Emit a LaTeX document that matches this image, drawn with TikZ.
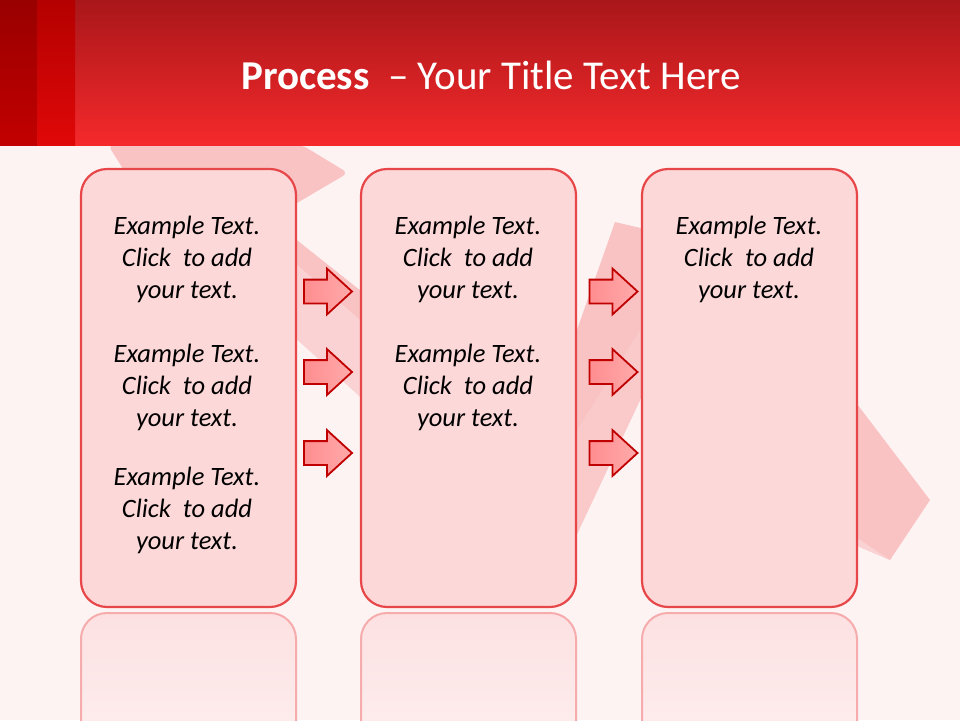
\documentclass[tikz,border=0pt]{standalone}
\usepackage{fontspec}
\setmainfont{Carlito}
\usetikzlibrary{shapes.arrows,calc}
\definecolor{bg}{HTML}{FEF3F3}
\definecolor{titletop}{HTML}{A9171A}
\definecolor{titlebot}{HTML}{F5292B}
\definecolor{stripAtop}{HTML}{990000}
\definecolor{stripAbot}{HTML}{C20000}
\definecolor{stripBtop}{HTML}{B40000}
\definecolor{stripBbot}{HTML}{E00808}
\definecolor{bandmid}{HTML}{F9C3C4}
\definecolor{bandsoft}{HTML}{FAC9CA}
\definecolor{bandlight}{HTML}{FBD2D3}
\definecolor{boxfill}{HTML}{FDD8D9}
\definecolor{boxline}{HTML}{E8474A}
\definecolor{refltop}{HTML}{FDE1E2}
\definecolor{reflline}{HTML}{F6ABAD}
\definecolor{arrowline}{HTML}{C00000}
\definecolor{arrowA}{HTML}{FF8D8F}
\definecolor{arrowB}{HTML}{FFAAAB}
\tikzset{
  body/.style={font=\itshape\fontsize{26.5}{32}\selectfont, align=center, inner sep=0pt, text=black},
  procbox/.style={draw=boxline, line width=2.2pt, fill=boxfill, rounded corners=26pt,
    minimum width=215pt, minimum height=438pt, inner sep=0pt},
  blockarrow/.style={single arrow, draw=arrowline, line width=1.8pt,
    left color=arrowA, right color=arrowB, inner xsep=0pt, inner ysep=11pt,
    single arrow head extend=11pt, minimum height=48pt, single arrow tip angle=85},
  reflbox/.style={draw=reflline, line width=2pt, top color=refltop, bottom color=bg, rounded corners=26pt},
}
\newcommand\exampletext{Example Text.\\Click~ to add\\your text.}
\begin{document}
\begin{tikzpicture}[x=1pt,y=-1pt]
\useasboundingbox (0,0) rectangle (960,720);
\fill[bg] (0,0) rectangle (960,720);
% background ribbon
\fill[bandmid, rounded corners=6pt] (108,145) -- (302,145) -- (348,173) -- (297,203) -- (200,260) -- (125,172) -- cycle;
\fill[bandlight] (260,211) -- (400,322) -- (400,433) -- (260,306) -- cycle;
\fill[bandmid] (260,211) -- (400,322) -- (400,355) -- (260,232) -- cycle;
\fill[bandmid] (615,222) -- (700,242) -- (700,272) -- (640,400) -- (560,570) -- (560,378) -- cycle;
\fill[bandsoft] (640,330) -- (640,400) -- (560,570) -- (560,457) -- cycle;
\fill[bandmid] (800,329) -- (930,500) -- (890,560) -- (800,521) -- cycle;
\fill[bandlight] (800,500) -- (890,560) -- (800,521) -- cycle;
% title bar
\fill[top color=titletop, bottom color=titlebot] (0,0) rectangle (960,145);
\fill[top color=stripAtop, bottom color=stripAbot] (0,0) rectangle (37,145);
\fill[top color=stripBtop, bottom color=stripBbot] (37,0) rectangle (75,145);
\node[text=white, font=\fontsize{41}{48}\selectfont, inner sep=0pt] (title) at (491,75)
  {\textbf{Process}\ \ – Your Title Text Here};
% reflections
\begin{scope}
  \clip (0,611) rectangle (960,720);
  \path[reflbox] (81,613) rectangle (296,800);
  \path[reflbox] (361,613) rectangle (576,800);
  \path[reflbox] (642,613) rectangle (857,800);
\end{scope}
% boxes
\node[procbox] (box1) at (188.5,388) {};
\node[procbox] (box2) at (468.5,388) {};
\node[procbox] (box3) at (749.5,388) {};
% texts
\node[body] (t11) at (187,259) {\exampletext};
\node[body] (t12) at (187,387) {\exampletext};
\node[body] (t13) at (187,510) {\exampletext};
\node[body] (t21) at (468,259) {\exampletext};
\node[body] (t22) at (468,387) {\exampletext};
\node[body] (t31) at (749,259) {\exampletext};
% arrows
\node[blockarrow] (a11) at (321.5,291.5) {};
\node[blockarrow] (a12) at (321.5,372) {};
\node[blockarrow] (a13) at (321.5,453) {};
\node[blockarrow] (a21) at (607,291.5) {};
\node[blockarrow] (a22) at (607,372) {};
\node[blockarrow] (a23) at (607,453) {};
\end{tikzpicture}
\end{document}
